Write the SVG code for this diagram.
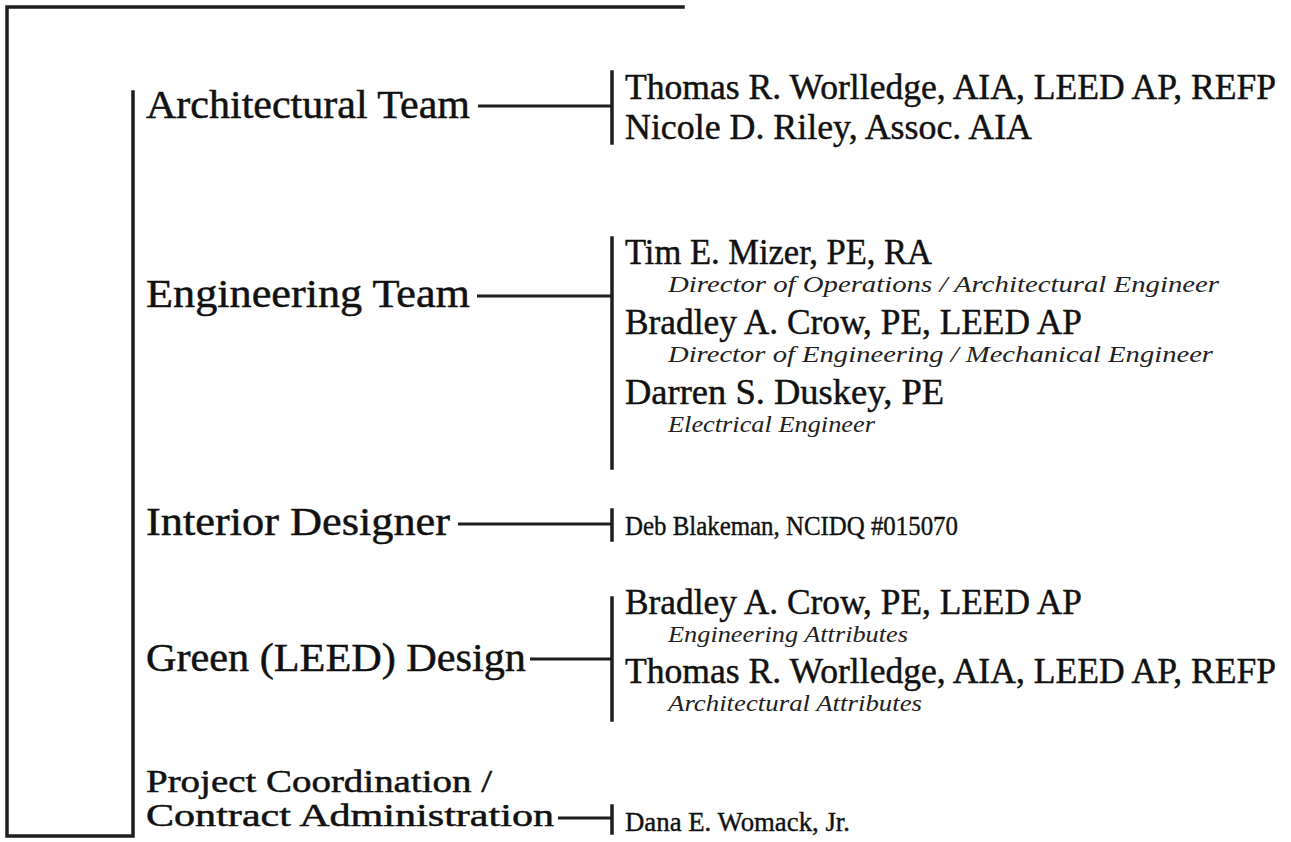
<svg xmlns="http://www.w3.org/2000/svg" width="1291" height="842" viewBox="0 0 1291 842">
<style>
.bg{fill:#ffffff}
.ln{fill:none;stroke:#1e1e1e;stroke-width:3.5;stroke-linecap:square}
.hl{fill:none;stroke:#1e1e1e;stroke-width:3}
.t{font-family:"Liberation Serif","Times New Roman",serif;font-size:41px;fill:#111;stroke:#111;stroke-width:0.5}
.p{font-family:"Liberation Serif","Times New Roman",serif;font-size:32px;fill:#111;stroke:#111;stroke-width:0.5}
.n{font-family:"Liberation Serif","Times New Roman",serif;font-size:35px;fill:#111;stroke:#111;stroke-width:0.45}
.m{font-family:"Liberation Serif","Times New Roman",serif;font-size:28px;fill:#111;stroke:#111;stroke-width:0.4}
.s{font-family:"Liberation Serif","Times New Roman",serif;font-size:24px;font-style:italic;fill:#222}
</style>
<rect class="bg" x="0" y="0" width="1291" height="842"/>
<g id="connectors">
<polyline class="ln" points="683,7 7,7 7,836 133,836 133,92"/>
<line class="hl" x1="478" y1="106" x2="612" y2="106"/>
<line class="ln" x1="612" y1="72" x2="612" y2="143"/>
<line class="hl" x1="477" y1="296" x2="612" y2="296"/>
<line class="ln" x1="612" y1="238" x2="612" y2="468"/>
<line class="hl" x1="458" y1="524" x2="612" y2="524"/>
<line class="ln" x1="612" y1="510" x2="612" y2="540"/>
<line class="hl" x1="530" y1="659" x2="612" y2="659"/>
<line class="ln" x1="612" y1="598" x2="612" y2="720"/>
<line class="hl" x1="558" y1="818" x2="612" y2="818"/>
<line class="ln" x1="612" y1="806" x2="612" y2="833"/>
</g>
<g id="architectural-team">
<text class="t" x="146" y="118" textLength="324" lengthAdjust="spacingAndGlyphs">Architectural Team</text>
</g>
<g id="architectural-members">
<text class="n" x="625" y="99" textLength="651" lengthAdjust="spacingAndGlyphs">Thomas R. Worlledge, AIA, LEED AP, REFP</text>
<text class="n" x="625" y="139" textLength="407" lengthAdjust="spacingAndGlyphs">Nicole D. Riley, Assoc. AIA</text>
</g>
<g id="engineering-team">
<text class="t" x="146" y="307" textLength="324" lengthAdjust="spacingAndGlyphs">Engineering Team</text>
</g>
<g id="engineering-members">
<text class="n" x="625" y="264" textLength="307" lengthAdjust="spacingAndGlyphs">Tim E. Mizer, PE, RA</text>
<text class="s" x="668" y="292" textLength="551" lengthAdjust="spacingAndGlyphs">Director of Operations / Architectural Engineer</text>
<text class="n" x="625" y="334" textLength="457" lengthAdjust="spacingAndGlyphs">Bradley A. Crow, PE, LEED AP</text>
<text class="s" x="668" y="362" textLength="545" lengthAdjust="spacingAndGlyphs">Director of Engineering / Mechanical Engineer</text>
<text class="n" x="625" y="404" textLength="319" lengthAdjust="spacingAndGlyphs">Darren S. Duskey, PE</text>
<text class="s" x="668" y="432" textLength="207" lengthAdjust="spacingAndGlyphs">Electrical Engineer</text>
</g>
<g id="interior-designer">
<text class="t" x="146" y="535" textLength="304" lengthAdjust="spacingAndGlyphs">Interior Designer</text>
</g>
<g id="interior-member">
<text class="m" x="625" y="535" textLength="333" lengthAdjust="spacingAndGlyphs">Deb Blakeman, NCIDQ #015070</text>
</g>
<g id="green-design">
<text class="t" x="146" y="671" textLength="380" lengthAdjust="spacingAndGlyphs">Green (LEED) Design</text>
</g>
<g id="green-members">
<text class="n" x="625" y="614" textLength="457" lengthAdjust="spacingAndGlyphs">Bradley A. Crow, PE, LEED AP</text>
<text class="s" x="668" y="642" textLength="240" lengthAdjust="spacingAndGlyphs">Engineering Attributes</text>
<text class="n" x="625" y="683" textLength="651" lengthAdjust="spacingAndGlyphs">Thomas R. Worlledge, AIA, LEED AP, REFP</text>
<text class="s" x="668" y="711" textLength="254" lengthAdjust="spacingAndGlyphs">Architectural Attributes</text>
</g>
<g id="project-coordination">
<text class="p" x="146" y="792" textLength="346" lengthAdjust="spacingAndGlyphs">Project Coordination /</text>
<text class="p" x="146" y="826" textLength="408" lengthAdjust="spacingAndGlyphs">Contract Administration</text>
</g>
<g id="project-member">
<text class="m" x="625" y="831" textLength="225" lengthAdjust="spacingAndGlyphs">Dana E. Womack, Jr.</text>
</g>
</svg>
